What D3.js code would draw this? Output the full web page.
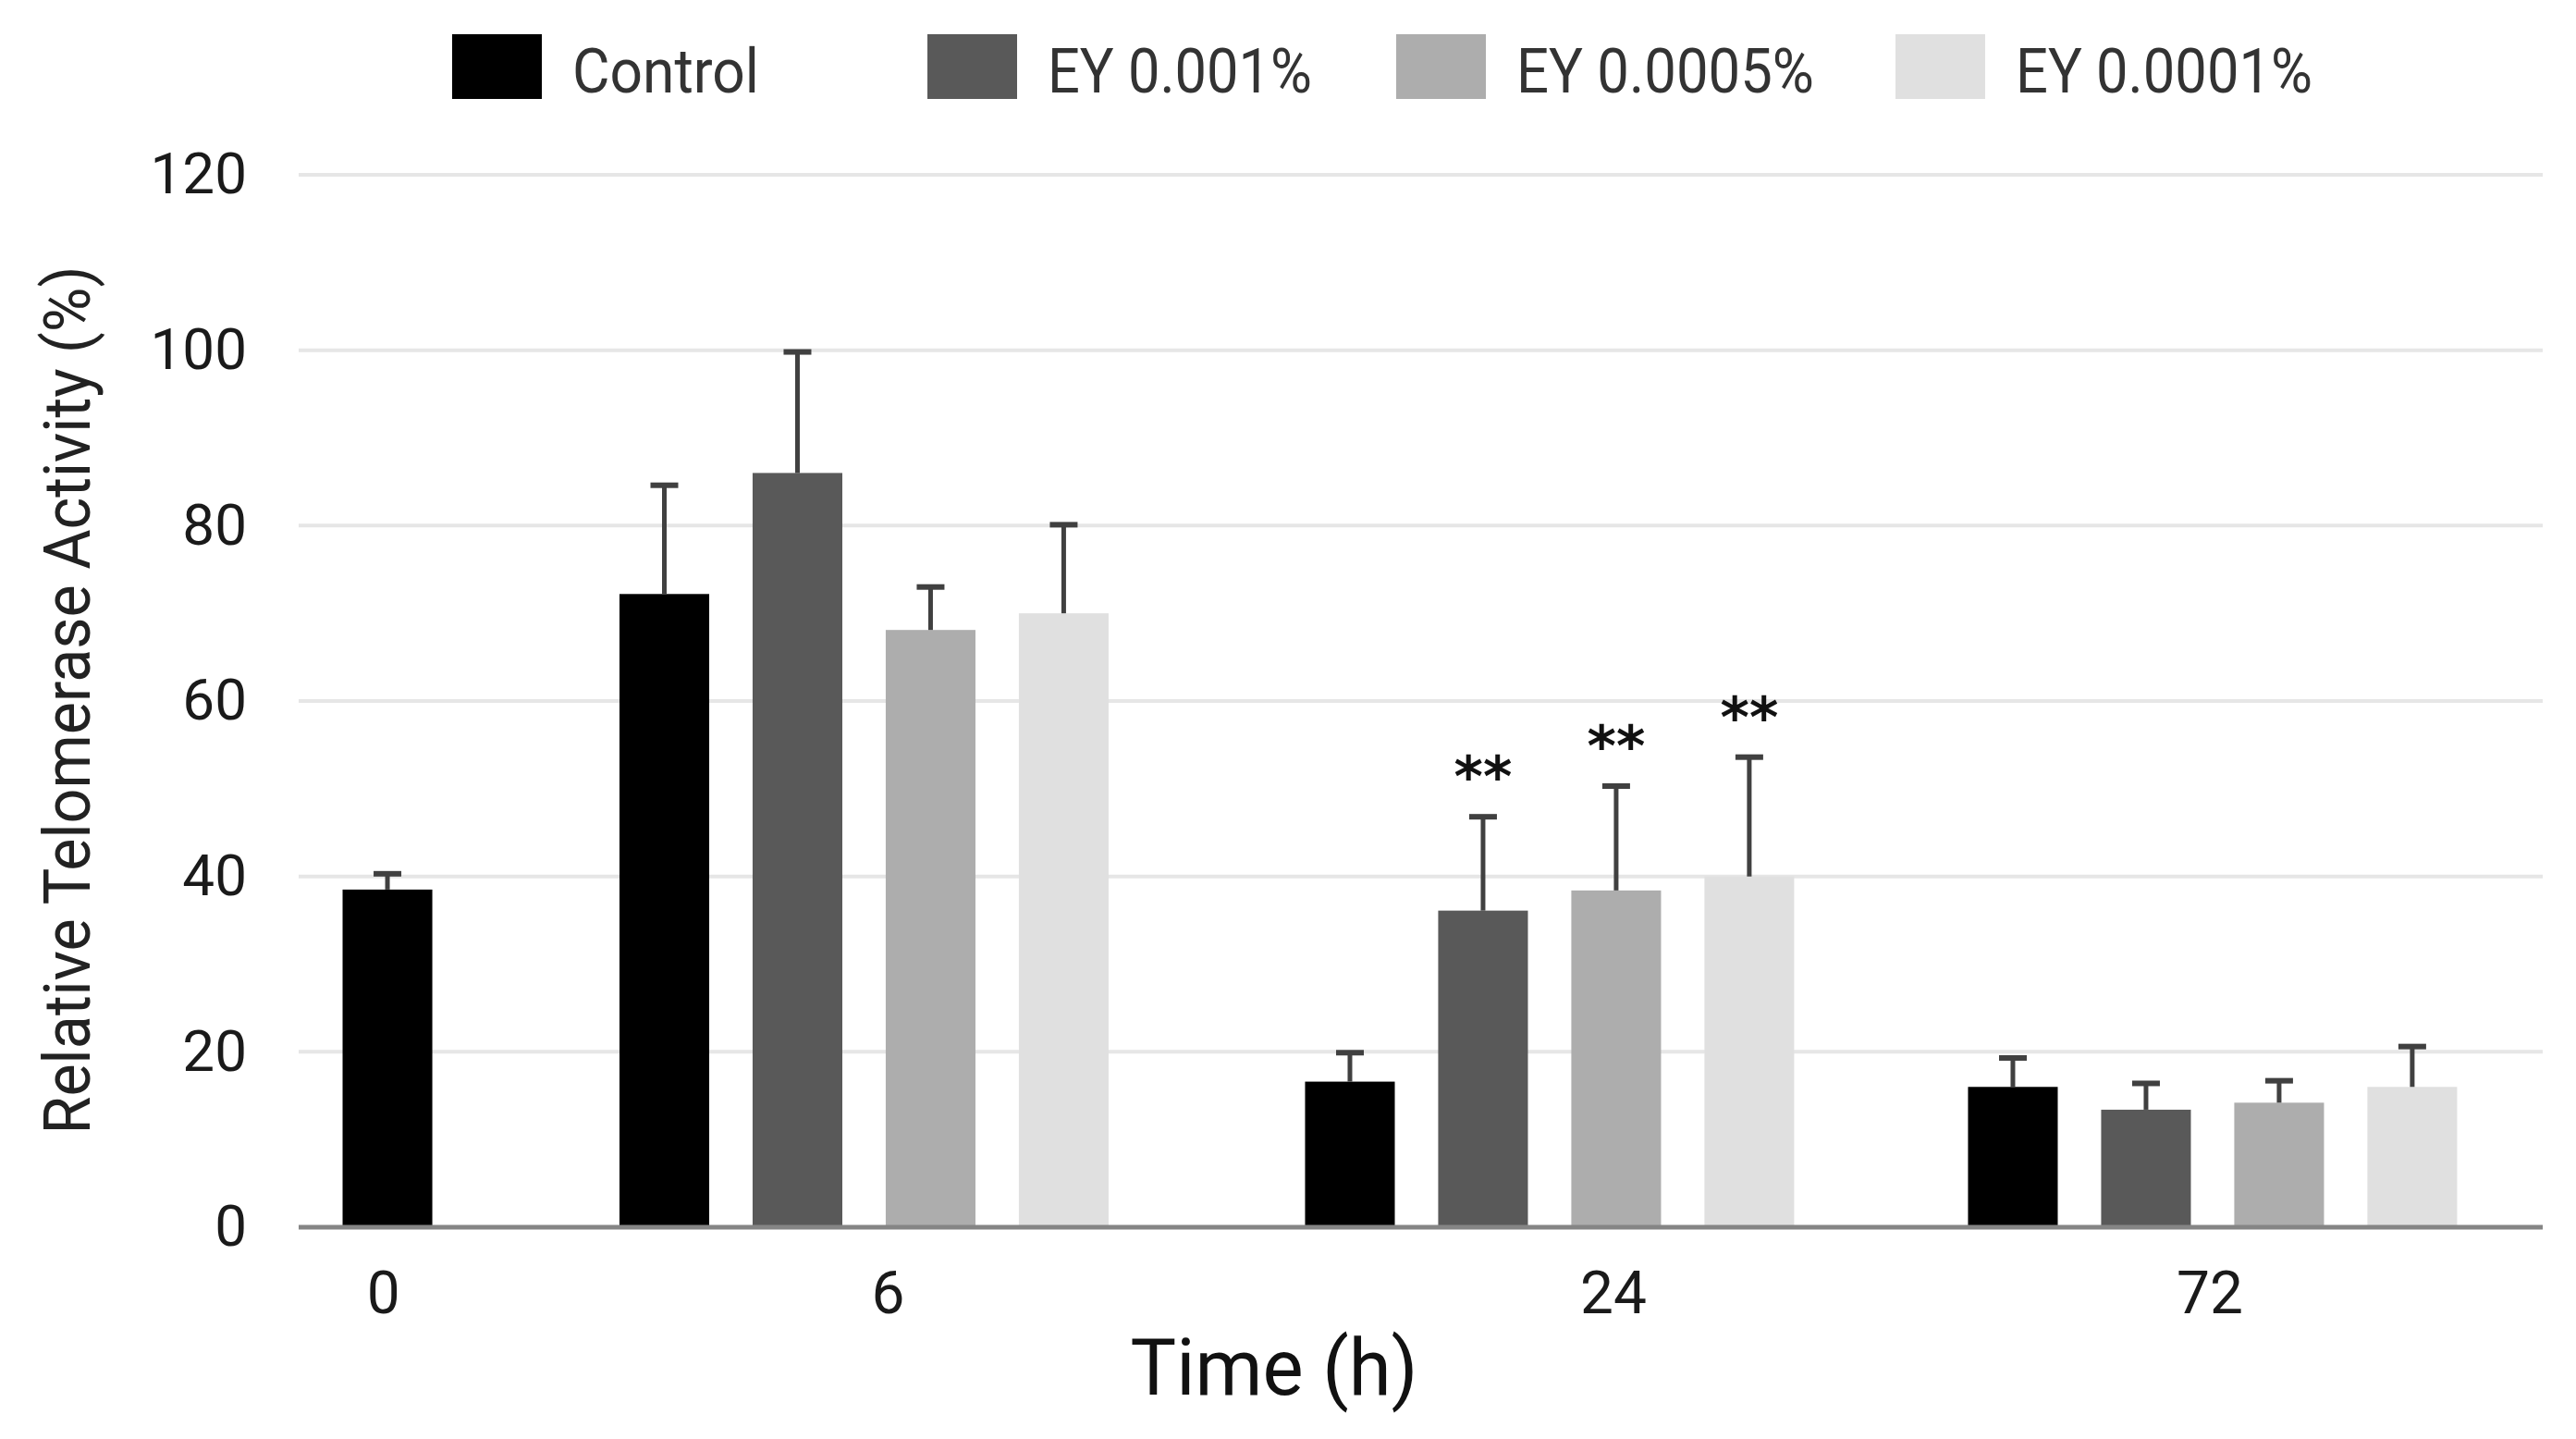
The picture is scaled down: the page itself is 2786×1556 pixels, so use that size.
<!DOCTYPE html>
<html>
<head>
<meta charset="utf-8">
<script src="https://cdn.jsdelivr.net/npm/d3@7"></script>
<style>
  body { margin: 0; background: #fff; }
  text { font-family: Roboto, "Noto Sans", sans-serif; }
</style>
</head>
<body>
<div id="chart"></div>
<script>
// time points and treatment groups
var times = ["0", "6", "24", "72"];
var series = ["Control", "EY 0.001%", "EY 0.0005%", "EY 0.0001%"];
var colors = ["#000000", "#595959", "#adadad", "#e0e0e0"];

// mean relative telomerase activity (%) per series, one value per time point
var control  = [38.5, 72.2, 16.6, 16.0];
var ey001    = [null, 86.0, 36.1, 13.4];
var ey0005   = [null, 68.1, 38.4, 14.2];
var ey0001   = [null, 70.0, 40.0, 16.0];

// upper error (SD)
var controlSd = [1.8, 12.4, 3.3, 3.3];
var ey001Sd   = [null, 13.8, 10.7, 3.0];
var ey0005Sd  = [null, 4.9, 11.9, 2.5];
var ey0001Sd  = [null, 10.1, 13.6, 4.6];

// significance marks
var controlSig = ["", "", "", ""];
var ey001Sig   = ["", "", "**", ""];
var ey0005Sig  = ["", "", "**", ""];
var ey0001Sig  = ["", "", "**", ""];

var yTicks = [0, 20, 40, 60, 80, 100, 120];

var means = [control, ey001, ey0005, ey0001];
var sds = [controlSd, ey001Sd, ey0005Sd, ey0001Sd];
var sigs = [controlSig, ey001Sig, ey0005Sig, ey0001Sig];

// layout
var W = 2786, H = 1556;
var plotLeft = 323, plotRight = 2750, plotTop = 189, plotBottom = 1327;
var groupGaps = [1.08, 1.15, 0.98, 0];   // extra slots after each time group
var barSlot = 0.674;                     // bar width in slot units
var tickNudge = [-0.03, 0.18, 0.48, -0.02];
var legendPos = [489, 1003, 1510, 2050];
var legendWidths = [202, 286, 322, 321];

// build one record per bar, placing bars on consecutive slots
var bars = [];
var groupCenters = [];
var slot = 0;
times.forEach(function(t, ti) {
    var first = null, last = null;
    series.forEach(function(s, si) {
        var v = means[si][ti];
        if (v == null) return;
        if (first === null) first = slot;
        last = slot;
        bars.push({time: t, series: s, si: si, slot: slot, val: v, sd: sds[si][ti], sig: sigs[si][ti]});
        slot += 1;
    });
    groupCenters.push((first + last) / 2 + tickNudge[ti]);
    slot += groupGaps[ti];
});

var x = d3.scaleLinear()
    .domain([-0.667, 16.19])
    .range([plotLeft, plotRight]);

var y = d3.scaleLinear()
    .domain([0, 120])
    .range([plotBottom, plotTop]);

var svg = d3.select("#chart").append("svg")
    .attr("width", W)
    .attr("height", H);

// horizontal grid
svg.append("g")
    .attr("class", "grid")
    .selectAll("line")
    .data(yTicks.filter(function(d) { return d > 0; }))
  .enter().append("line")
    .attr("x1", plotLeft)
    .attr("x2", plotRight)
    .attr("y1", function(d) { return y(d); })
    .attr("y2", function(d) { return y(d); })
    .style("stroke", "#e6e6e6")
    .style("stroke-width", 4);

// y axis labels
var yAxis = d3.axisLeft(y)
    .tickValues(yTicks)
    .tickSize(0)
    .tickPadding(0);

var yg = svg.append("g")
    .attr("class", "y axis")
    .attr("transform", "translate(267,0)")
    .call(yAxis);
yg.select(".domain").remove();
yg.selectAll("text")
    .style("font-family", "Roboto, sans-serif")
    .style("font-size", "62px")
    .style("fill", "#1a1a1a");

// bars
svg.selectAll(".bar")
    .data(bars)
  .enter().append("rect")
    .attr("class", "bar")
    .attr("x", function(d) { return x(d.slot - barSlot / 2); })
    .attr("width", x(barSlot) - x(0))
    .attr("y", function(d) { return y(d.val); })
    .attr("height", function(d) { return y(0) - y(d.val); })
    .style("fill", function(d) { return colors[d.si]; });

// error bars (upper only)
var err = svg.selectAll(".err")
    .data(bars)
  .enter().append("g")
    .attr("class", "err")
    .style("stroke", "#404040")
    .style("stroke-width", 5);

err.append("line")
    .attr("x1", function(d) { return x(d.slot); })
    .attr("x2", function(d) { return x(d.slot); })
    .attr("y1", function(d) { return y(d.val); })
    .attr("y2", function(d) { return y(d.val + d.sd); });

err.append("line")
    .attr("x1", function(d) { return x(d.slot) - 15; })
    .attr("x2", function(d) { return x(d.slot) + 15; })
    .attr("y1", function(d) { return y(d.val + d.sd); })
    .attr("y2", function(d) { return y(d.val + d.sd); })
    .style("stroke-width", 6);

// significance stars
svg.selectAll(".sig")
    .data(bars.filter(function(d) { return d.sig; }))
  .enter().append("text")
    .attr("class", "sig")
    .attr("x", function(d) { return x(d.slot); })
    .attr("y", function(d) { return y(d.val + d.sd) - 22; })
    .attr("text-anchor", "middle")
    .style("font-family", "'DejaVu Sans', sans-serif")
    .style("font-weight", "bold")
    .style("font-size", "60px")
    .style("fill", "#111")
    .text(function(d) { return d.sig; });

// x axis baseline
svg.append("line")
    .attr("x1", plotLeft)
    .attr("x2", plotRight)
    .attr("y1", y(0))
    .attr("y2", y(0))
    .style("stroke", "#858585")
    .style("stroke-width", 5);

// x tick labels
svg.selectAll(".xlabel")
    .data(times)
  .enter().append("text")
    .attr("class", "xlabel")
    .attr("x", function(d, i) { return x(groupCenters[i]); })
    .attr("y", 1420)
    .attr("text-anchor", "middle")
    .style("font-size", "64px")
    .style("fill", "#1a1a1a")
    .text(function(d) { return d; });

// axis titles
svg.append("text")
    .attr("x", 1378)
    .attr("y", 1508)
    .attr("text-anchor", "middle")
    .attr("textLength", 311)
    .attr("lengthAdjust", "spacingAndGlyphs")
    .style("font-size", "86px")
    .style("fill", "#111")
    .text("Time (h)");

svg.append("text")
    .attr("transform", "translate(97,757) rotate(-90)")
    .attr("text-anchor", "middle")
    .attr("textLength", 939)
    .attr("lengthAdjust", "spacingAndGlyphs")
    .style("font-size", "70px")
    .style("fill", "#222")
    .text("Relative Telomerase Activity (%)");

// legend
var legend = svg.selectAll(".legend")
    .data(series)
  .enter().append("g")
    .attr("class", "legend")
    .attr("transform", function(d, i) { return "translate(" + legendPos[i] + ",0)"; });

legend.append("rect")
    .attr("x", 0)
    .attr("y", 37)
    .attr("width", 97)
    .attr("height", 70)
    .style("fill", function(d, i) { return colors[i]; });

legend.append("text")
    .attr("x", 130)
    .attr("y", 100)
    .attr("textLength", function(d, i) { return legendWidths[i]; })
    .attr("lengthAdjust", "spacingAndGlyphs")
    .style("font-size", "66px")
    .style("fill", "#333")
    .text(function(d) { return d; });
</script>
</body>
</html>
